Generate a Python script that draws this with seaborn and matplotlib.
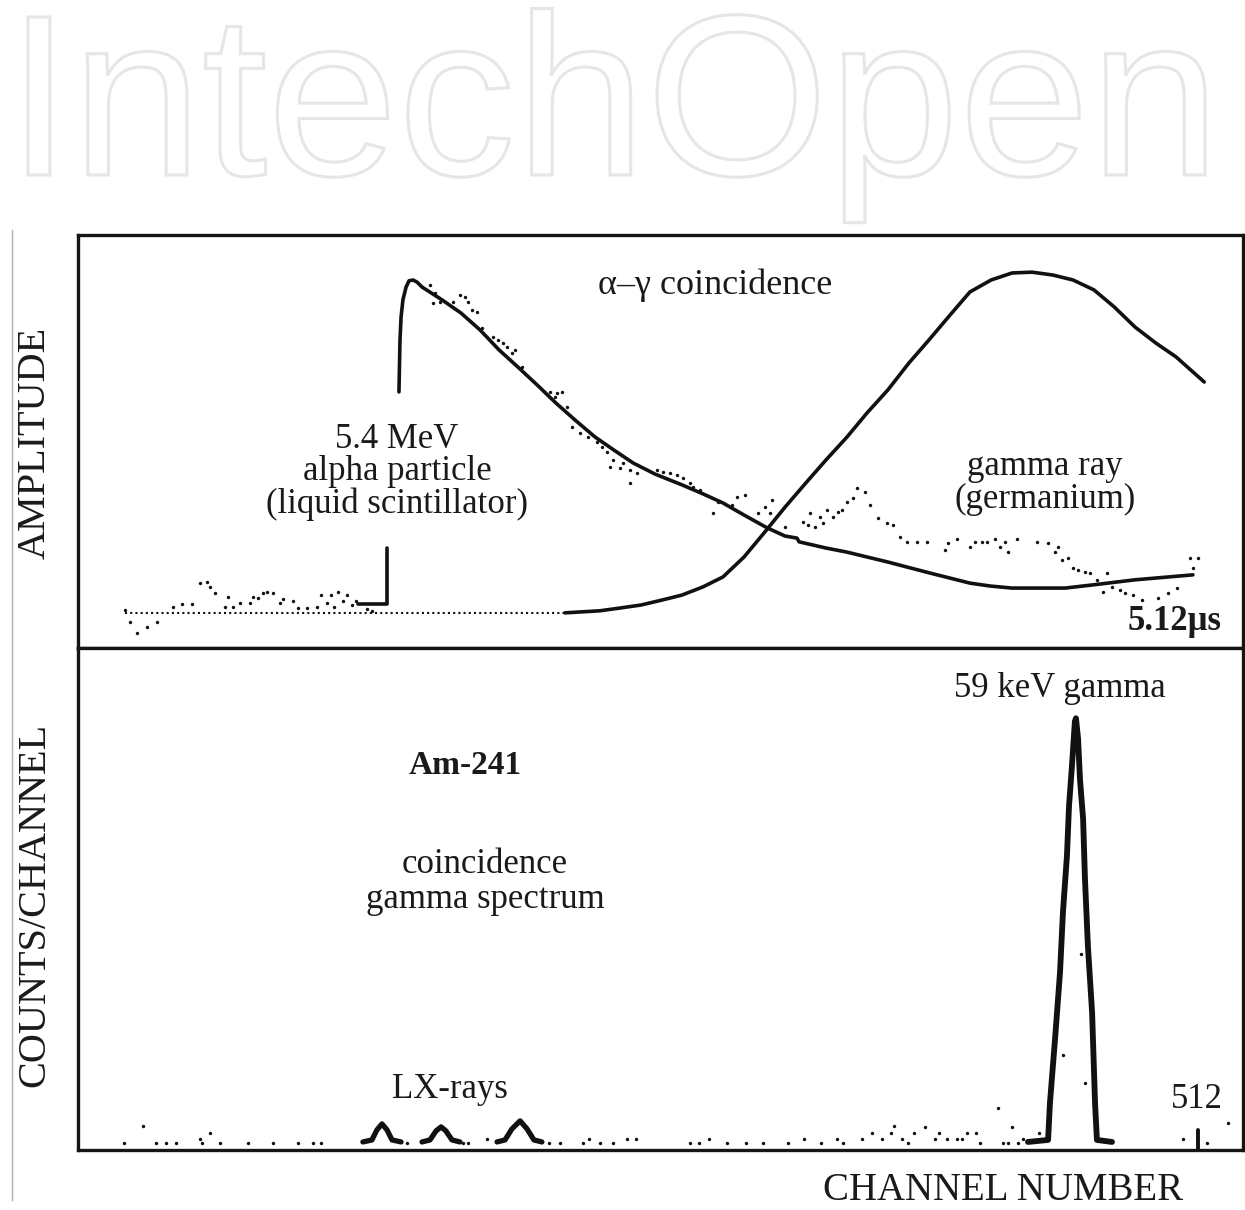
import matplotlib
matplotlib.use('Agg')
import matplotlib.pyplot as plt
from matplotlib.textpath import TextPath
from matplotlib.font_manager import FontProperties
from matplotlib.patches import PathPatch
from matplotlib.transforms import Affine2D
import seaborn as sns

# Top panel: pulse shapes (x in channels, 512 ch = 5.12 us; y = amplitude, arbitrary units)
alpha_step_x = [111.2, 125.0, 125.0]
alpha_step_y = [10.7, 10.7, 24.2]
alpha_x = [130.7, 131.2, 131.7, 132.6, 134.1, 135.5, 137.4, 139.3, 141.7, 151.2, 160.3, 169.4,
           178.4, 187.5, 196.6, 205.6, 214.7, 224.2, 233.3, 242.4, 252.9, 265.7, 275.8, 285.3,
           295.3, 306.3, 314.9, 320.6, 321.6, 334.4, 344.5, 364.0, 383.6, 403.1, 412.7, 423.2,
           448.5, 462.3, 481.9, 509.5]
alpha_y = [62.0, 74.6, 80.1, 84.3, 87.4, 88.9, 89.1, 88.6, 87.4, 84.3, 81.1, 77.0,
           72.2, 68.0, 63.7, 59.3, 55.2, 51.1, 47.9, 44.8, 42.1, 39.5, 37.3, 35.1,
           32.2, 29.1, 27.1, 26.6, 25.7, 24.2, 23.2, 20.8, 18.2, 15.7, 15.0, 14.5,
           14.5, 15.3, 16.5, 17.7]
gamma_x = [209.9, 226.6, 236.6, 246.2, 256.2, 265.7, 275.8, 285.3, 295.3, 305.3, 314.9, 324.9,
           334.4, 344.5, 354.0, 364.0, 374.0, 383.6, 393.6, 403.1, 413.2, 423.2, 432.7, 442.7,
           452.3, 462.3, 471.9, 481.9, 491.9, 501.4, 514.9]
gamma_y = [8.5, 9.0, 9.7, 10.4, 11.6, 12.8, 14.8, 17.2, 22.0, 28.1, 34.1, 40.0,
           45.5, 51.1, 56.9, 62.5, 69.0, 74.6, 80.6, 86.2, 89.1, 90.8, 91.0, 90.3,
           89.1, 86.7, 82.6, 77.7, 73.8, 70.5, 64.4]
baseline_x = [0.0, 210.0]
baseline_y = [8.5, 8.5]

# measured (dotted) pulse samples
pulse_x = [0.0, 2.4, 5.7, 10.5, 15.3, 22.9, 27.2, 32.0, 35.8, 39.1, 40.6, 42.9, 47.7, 49.1, 51.5,
           54.9, 59.6, 61.1, 63.5, 65.8, 67.7, 70.6, 74.0, 75.4, 80.2, 82.5, 86.8, 91.6, 93.5,
           96.4, 98.3, 99.7, 101.6, 104.0, 105.9, 108.3, 110.2, 115.5, 117.8,
           145.5, 147.9, 146.9, 150.3, 156.5, 159.8, 162.2, 163.6, 165.6, 167.9, 170.3, 175.6,
           178.0, 180.3, 182.3, 186.1, 184.6, 189.4, 202.8, 205.2, 206.1, 208.5, 210.9, 213.3,
           217.1, 220.9, 225.2, 227.6, 230.0, 232.8, 231.4, 236.2, 237.6, 240.9, 240.9, 244.3,
           253.8, 256.7, 260.0, 263.4, 266.2, 269.6, 271.0,
           274.3, 280.5, 282.9, 289.6, 292.0, 295.8, 302.0, 305.3, 307.7, 308.7, 314.9, 323.5,
           325.9, 326.8, 329.2, 331.6, 333.0, 334.9, 337.8, 340.2, 342.1, 344.5, 347.3, 349.2,
           353.1, 355.4, 359.3, 363.5, 366.4, 369.8, 373.1, 377.9, 382.6, 391.2, 392.6, 396.9,
           403.1, 405.5, 408.9, 411.3, 415.1, 417.5, 419.8, 421.3, 425.6, 435.1, 440.4, 443.7,
           445.1, 447.0, 449.9, 452.3, 454.7, 458.0, 460.4, 463.7, 466.6, 468.5, 470.9, 474.7,
           477.1, 480.9, 485.2, 492.8, 497.6, 501.9, 508.1, 509.5, 511.9]
pulse_y = [9.2, 6.3, 3.6, 5.1, 6.3, 9.9, 10.7, 10.7, 15.7, 16.0, 14.8, 13.3, 9.9, 12.3, 9.9,
           10.9, 10.9, 12.3, 12.1, 13.3, 13.6, 13.3, 10.9, 11.9, 11.4, 9.7, 9.7, 9.9, 12.8,
           10.9, 12.8, 9.9, 13.6, 11.4, 12.8, 10.4, 11.4, 9.4, 9.0,
           87.9, 86.0, 83.5, 83.8, 83.8, 85.5, 85.0, 83.8, 81.8, 81.4, 77.5, 75.3,
           74.6, 73.8, 72.9, 72.2, 71.4, 68.0, 62.0, 60.8, 61.7, 62.0, 58.4, 53.5,
           52.1, 51.1, 49.9, 48.7, 47.5, 45.5, 43.8, 43.6, 44.8, 43.1, 40.0, 42.4,
           43.1, 42.6, 42.4, 41.9, 41.2, 40.0, 39.0,
           38.3, 32.7, 35.4, 34.6, 36.6, 37.0, 32.7, 34.1, 32.7, 35.8, 29.3, 30.5,
           29.8, 32.7, 29.3, 31.7, 30.3, 33.4, 31.7, 32.9, 33.4, 35.4, 36.3, 38.7,
           37.8, 34.6, 31.5, 30.3, 29.8, 26.9, 25.7, 25.7, 25.7, 23.7, 25.4, 26.4,
           24.5, 25.7, 25.7, 25.7, 26.4, 24.5, 25.7, 23.2, 26.4, 25.7, 25.4, 23.2,
           24.5, 21.3, 21.8, 19.4, 18.9, 18.4, 18.2, 16.5, 13.6, 18.2, 14.8, 14.0,
           13.3, 12.8, 11.6, 12.1, 13.3, 14.5, 21.8, 19.4, 21.8]

# Bottom panel: coincidence gamma spectrum (counts per channel)
peak59_x = [430.8, 440.4, 441.3, 443.7, 446.1, 447.5, 449.4, 450.4, 451.8, 453.2, 453.7, 454.7,
            455.6, 457.1, 458.0, 459.4, 461.4, 462.8, 463.7, 470.9]
peak59_y = [8, 10, 47, 110, 177, 237, 293, 343, 383, 427, 430, 410,
            370, 330, 270, 203, 137, 47, 10, 8]
lx1_x = [113.5, 117.8, 120.2, 122.6, 125.0, 127.4, 131.7]
lx1_y = [8, 10, 20, 26, 20, 10, 8]
lx2_x = [141.7, 145.5, 148.4, 150.8, 153.1, 156.0, 159.8]
lx2_y = [8, 10, 19, 23, 19, 10, 8]
lx3_x = [177.5, 181.3, 184.6, 188.5, 191.8, 195.1, 198.9]
lx3_y = [8, 10, 21, 29, 21, 10, 8]
noise_x = [-0.5, 8.6, 14.8, 19.6, 24.3, 35.8, 36.7, 40.6, 45.3, 58.7, 70.6, 82.5, 89.7, 93.5,
           134.5, 161.3, 163.6, 172.7, 202.3, 207.5, 218.5, 221.4, 226.6, 232.8, 239.5, 243.8,
           269.6, 273.9, 278.6, 287.2, 296.3, 304.4, 316.3, 323.9, 332.1, 339.7, 342.6, 351.6,
           356.4, 361.2, 365.5, 366.9, 370.7, 373.6, 376.4, 381.7, 386.5, 388.4, 392.2, 396.9,
           399.3, 401.7, 406.0, 407.9, 416.5, 418.9, 421.3, 423.2, 426.0, 428.4, 436.1, 447.5,
           456.1, 458.0, 504.8, 516.2, 526.2]
noise_y = [7, 24, 7, 7, 7, 11, 7, 17, 7, 7, 7, 7, 7, 7,
           7, 7, 7, 11, 7, 7, 7, 11, 7, 7, 11, 11,
           7, 7, 11, 7, 7, 7, 7, 11, 7, 11, 7, 11,
           17, 11, 17, 24, 11, 7, 17, 23, 11, 17, 11, 11,
           11, 17, 17, 7, 42, 7, 7, 23, 7, 11, 17, 95,
           195, 67, 11, 7, 27]
end_tick_x = [512, 512]
end_tick_y = [0, 20]

sns.set_theme(style='white')
plt.rcParams['font.family'] = ['Liberation Serif', 'DejaVu Serif']
plt.rcParams['text.color'] = '#1a1a1a'

fig = plt.figure(figsize=(12.45, 12.1), dpi=100)
fig.patch.set_facecolor('white')

# faint outlined watermark, stretched to the width it takes in the source page
fp = FontProperties(family='Liberation Sans')
wm = TextPath((0, 0), 'IntechOpen', size=1, prop=fp)
cap = TextPath((0, 0), 'I', size=1, prop=fp).get_extents()
ext = wm.get_extents()
sx = 11.77 / ext.width
sy = 1.58 / cap.y1
wm_tr = Affine2D().translate(-ext.x0, 0).scale(sx, sy).translate(0.28, 10.35) + fig.dpi_scale_trans
fig.add_artist(PathPatch(wm, transform=wm_tr, facecolor='white', edgecolor='#e6e6e6', lw=2.2))

ax1 = fig.add_axes([0.0627, 0.4645, 0.9357, 0.3413])
ax2 = fig.add_axes([0.0627, 0.0496, 0.9357, 0.4149])

ink = '#111111'

# top panel
sns.lineplot(x=baseline_x, y=baseline_y, ax=ax1, color=ink, lw=1.5, linestyle=(0, (1, 1.5)),
             sort=False, estimator=None)
sns.scatterplot(x=pulse_x, y=pulse_y, ax=ax1, color=ink, s=6, linewidth=0)
sns.lineplot(x=alpha_step_x, y=alpha_step_y, ax=ax1, color=ink, lw=2.6, sort=False, estimator=None)
sns.lineplot(x=alpha_x, y=alpha_y, ax=ax1, color=ink, lw=2.6, sort=False, estimator=None)
sns.lineplot(x=gamma_x, y=gamma_y, ax=ax1, color=ink, lw=2.6, sort=False, estimator=None)

ax1.text(281.5, 87.9, 'α–γ coincidence', fontsize=26, ha='center', va='center')
ax1.text(129.8, 42.6, '5.4 MeV\nalpha particle\n(liquid scintillator)', fontsize=25,
         ha='center', va='center', linespacing=0.98)
ax1.text(438.9, 40.0, 'gamma ray\n(germanium)', fontsize=25, ha='center', va='center',
         linespacing=0.98)
ax1.text(523.4, 6.3, '5.12μs', fontsize=25, fontweight='bold', ha='right', va='center')

# bottom panel
sns.scatterplot(x=noise_x, y=noise_y, ax=ax2, color=ink, s=6, linewidth=0)
for px, py in [(lx1_x, lx1_y), (lx2_x, lx2_y), (lx3_x, lx3_y)]:
    sns.lineplot(x=px, y=py, ax=ax2, color=ink, lw=3.8, sort=False, estimator=None)
sns.lineplot(x=peak59_x, y=peak59_y, ax=ax2, color=ink, lw=4.2, sort=False, estimator=None)
sns.lineplot(x=end_tick_x, y=end_tick_y, ax=ax2, color=ink, lw=2.8, sort=False, estimator=None)

ax2.text(446.1, 460, '59 keV gamma', fontsize=25, ha='center', va='center')
ax2.text(162.2, 383, 'Am-241', fontsize=24, fontweight='bold', ha='center', va='center')
ax2.text(171.8, 267, 'coincidence\ngamma spectrum', fontsize=25, ha='center', va='center',
         linespacing=1.05)
ax2.text(155.1, 60, 'LX-rays', fontsize=25, ha='center', va='center')
ax2.text(511.5, 50, '512', fontsize=25, ha='center', va='center')

for ax, top in [(ax1, 100), (ax2, 500)]:
    ax.set_xlim(-22.4, 533.4)
    ax.set_ylim(0, top)
    ax.set_xticks([])
    ax.set_yticks([])
    ax.set_xlabel('')
    ax.set_ylabel('')
    for s in ax.spines.values():
        s.set_visible(True)
        s.set_color('#151515')
        s.set_linewidth(2.4)

fig.text(0.8056, 0.0165, 'CHANNEL NUMBER', fontsize=28, ha='center', va='center')
fig.text(0.0281, 0.6339, 'AMPLITUDE', fontsize=29, rotation=90, ha='center', va='center')
fig.text(0.0281, 0.2521, 'COUNTS/CHANNEL', fontsize=29, rotation=90, ha='center', va='center')

# thin page rule on the far left
rule = fig.add_axes([0.0096, 0.008, 0.0005, 0.802])
rule.set_xticks([])
rule.set_yticks([])
rule.patch.set_alpha(0)
for side, s in rule.spines.items():
    s.set_visible(side == 'left')
    s.set_color('#b0b0b0')
    s.set_linewidth(1.0)

fig.savefig('out.png', dpi=100, facecolor='white')
